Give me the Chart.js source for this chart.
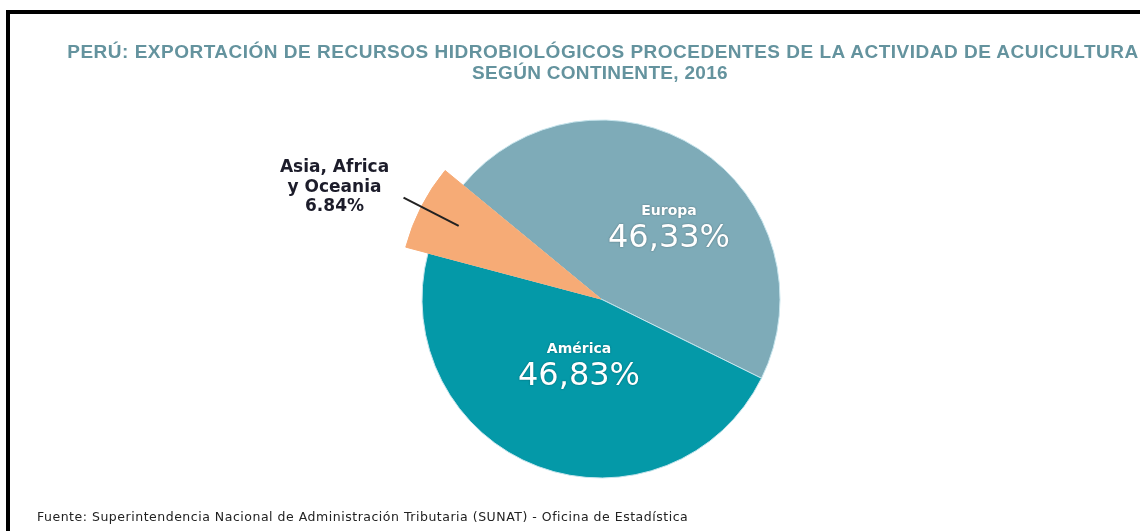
<!DOCTYPE html>
<html>
<head>
<meta charset="utf-8">
<script src="https://cdn.jsdelivr.net/npm/chart.js@4"></script>
<style>
  html, body { margin: 0; padding: 0; background: #fff; width: 1140px; height: 531px; overflow: hidden; }
  #frame { position: absolute; left: 6px; top: 10px; width: 1200px; height: 600px; border: 4px solid #000; box-sizing: border-box; }
  #wrap { position: absolute; left: 0; top: 0; width: 1140px; height: 531px; }
  .title { position: absolute; left: 0; width: 1206px; text-align: center; font: bold 19px "Liberation Sans", Arial, sans-serif; color: #64939e; white-space: pre; }
  #t1 { top: 41px; letter-spacing: 0.5px; }
  #t2 { top: 62px; left: 0; width: 1200px; letter-spacing: 0.3px; }
  #foot { position: absolute; left: 37px; top: 509px; font: 12.5px "DejaVu Sans", sans-serif; letter-spacing: 0.52px; color: #222; white-space: nowrap; }
</style>
</head>
<body>
<div id="frame"></div>
<div id="wrap"><canvas id="pieChart" width="1140" height="531"></canvas></div>
<div class="title" id="t1">PERÚ: EXPORTACIÓN DE RECURSOS HIDROBIOLÓGICOS PROCEDENTES DE LA ACTIVIDAD DE ACUICULTURA</div>
<div class="title" id="t2">SEGÚN CONTINENTE, 2016</div>
<div id="foot">Fuente: Superintendencia Nacional de Administración Tributaria (SUNAT) - Oficina de Estadística</div>
<script>
// data
const continents = ['Europa', 'América', 'Asia, Africa y Oceania'];
const shares = [46.33, 46.83, 6.84];
const shareLabels = ['46,33%', '46,83%', '6.84%'];
const sliceColors = ['#7eabb8', '#0499a8', '#f6ab76'];

// Asia slice sticks out a bit further than the others
const pullOut = {
  id: 'pullOut',
  afterDatasetsUpdate(chart) {
    const arc = chart.getDatasetMeta(0).data[2];
    arc.outerRadius = arc.outerRadius + 23;
  }
};

const sliceText = {
  id: 'sliceText',
  afterDatasetsDraw(chart) {
    const ctx = chart.ctx;
    const arcs = chart.getDatasetMeta(0).data;
    ctx.save();
    ctx.textAlign = 'center';
    ctx.shadowColor = 'rgba(0,0,0,0.35)';
    ctx.shadowBlur = 2;
    ctx.fillStyle = '#fff';
    // Europa
    let a = arcs[0];
    ctx.font = 'bold 14px "DejaVu Sans"';
    ctx.fillText(continents[0], a.x + 68, a.y - 84);
    ctx.font = '32px "DejaVu Sans"';
    ctx.fillText(shareLabels[0], a.x + 68, a.y - 52);
    // America
    a = arcs[1];
    ctx.font = 'bold 14px "DejaVu Sans"';
    ctx.fillText(continents[1], a.x - 22, a.y + 54);
    ctx.font = '32px "DejaVu Sans"';
    ctx.fillText(shareLabels[1], a.x - 22, a.y + 86);
    ctx.restore();

    // leader line + outside label for Asia
    a = arcs[2];
    const mid = (a.startAngle + a.endAngle) / 2;
    const x1 = a.x + Math.cos(mid) * 160, y1 = a.y + Math.sin(mid) * 160;
    const x2 = a.x + Math.cos(mid) * 222, y2 = a.y + Math.sin(mid) * 222;
    ctx.save();
    ctx.strokeStyle = '#222';
    ctx.lineWidth = 2;
    ctx.beginPath();
    ctx.moveTo(x1, y1);
    ctx.lineTo(x2, y2);
    ctx.stroke();
    ctx.fillStyle = '#1c1c2a';
    ctx.textAlign = 'center';
    ctx.font = 'bold 17px "DejaVu Sans"';
    ctx.fillText('Asia, Africa', x2 - 69, y2 - 26);
    ctx.fillText('y Oceania', x2 - 69, y2 - 6);
    ctx.fillText(shareLabels[2], x2 - 69, y2 + 13);
    ctx.restore();
  }
};

const pieCtx = document.getElementById('pieChart').getContext('2d');
const pieChart = new Chart(pieCtx, {
  type: 'pie',
  data: {
    labels: continents,
    datasets: [{
      data: shares,
      backgroundColor: sliceColors,
      borderColor: ['#c6e4ec', '#c6e4ec', '#f6ab76'],
      borderWidth: 1
    }]
  },
  options: {
    responsive: false,
    animation: false,
    rotation: -50.5,
    radius: 179,
    layout: { padding: { top: 120, bottom: 53, left: 62, right: 0 } },
    plugins: {
      legend: { display: false },
      tooltip: { enabled: false }
    }
  },
  plugins: [pullOut, sliceText]
});
</script>
</body>
</html>
